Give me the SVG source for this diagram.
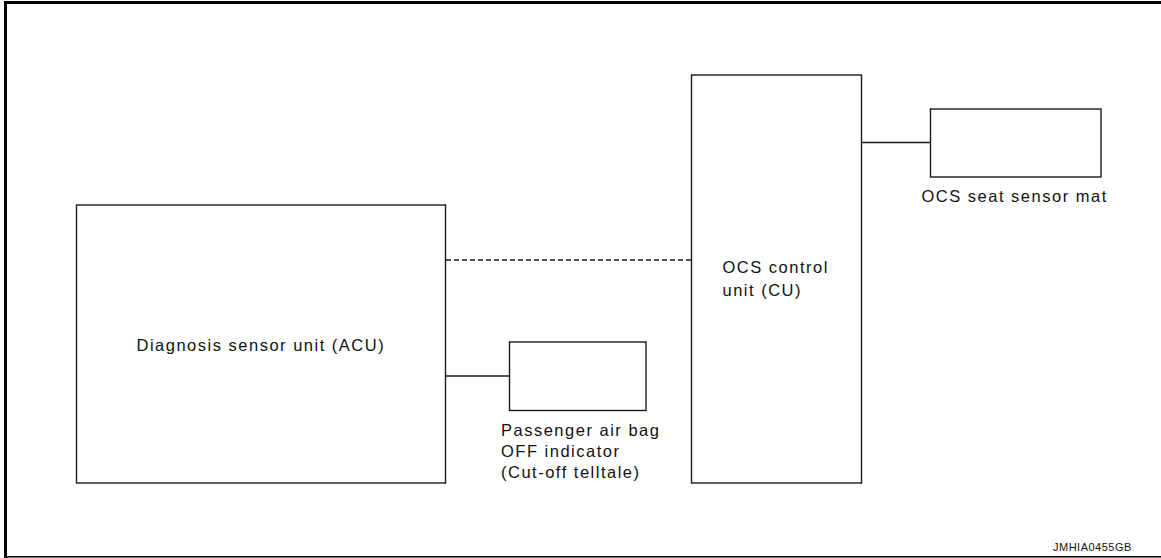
<svg xmlns="http://www.w3.org/2000/svg" width="1161" height="558" viewBox="0 0 1161 558">
<style>
.box{fill:#fff;stroke:#1a1a1a;stroke-width:1.4}
.ln{stroke:#1a1a1a;stroke-width:1.4;fill:none}
.dash{stroke-dasharray:5,3}
.t{font-family:"Liberation Sans",Arial,sans-serif;font-size:16.5px;letter-spacing:1.5px;fill:#111}
.id{font-family:"Liberation Sans",Arial,sans-serif;font-size:11px;letter-spacing:0.5px;fill:#111}
</style>
<rect width="1161" height="558" fill="#fff"/>
<g id="frame">
<line x1="4" y1="2.5" x2="1161" y2="2.5" stroke="#000" stroke-width="3"/>
<line x1="5.5" y1="1" x2="5.5" y2="558" stroke="#000" stroke-width="3"/>
<line x1="4" y1="556.8" x2="1161" y2="556.8" stroke="#000" stroke-width="1.6"/>
</g>
<g id="connectors">
<line class="ln dash" x1="446" y1="260" x2="691" y2="260"/>
<line class="ln" x1="446" y1="376" x2="509" y2="376"/>
<line class="ln" x1="862" y1="142.5" x2="930" y2="142.5"/>
</g>
<g id="acu">
<rect class="box" x="76.5" y="205" width="369" height="278"/>
<text class="t" x="136.5" y="351">Diagnosis sensor unit (ACU)</text>
</g>
<g id="indicator">
<rect class="box" x="509.5" y="342" width="136.5" height="68.5"/>
<text class="t" x="501" y="436">Passenger air bag</text>
<text class="t" x="501" y="457">OFF indicator</text>
<text class="t" x="501" y="478">(Cut-off telltale)</text>
</g>
<g id="ocs-cu">
<rect class="box" x="691.5" y="75" width="170" height="408"/>
<text class="t" x="722.5" y="273">OCS control</text>
<text class="t" x="722.5" y="295.5">unit (CU)</text>
</g>
<g id="seat-mat">
<rect class="box" x="930.5" y="109" width="170.5" height="68"/>
<text class="t" x="921.5" y="201.5">OCS seat sensor mat</text>
</g>
<text class="id" x="1053" y="551">JMHIA0455GB</text>
</svg>
